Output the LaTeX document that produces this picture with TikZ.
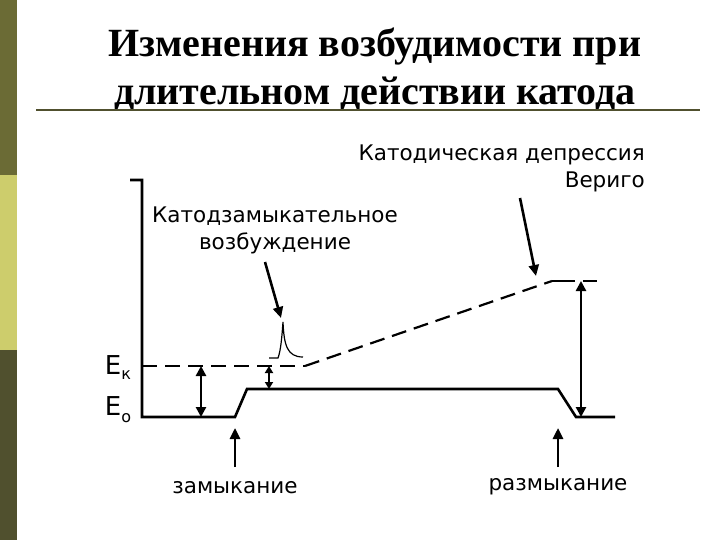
\documentclass[tikz,border=0pt]{standalone}
\usepackage{fontspec}
\setmainfont{DejaVu Sans}
\newfontfamily\titlefont{Liberation Serif}
\usetikzlibrary{arrows.meta}
\definecolor{oliveA}{HTML}{6B6B35}
\definecolor{oliveB}{HTML}{CDCD6C}
\definecolor{oliveC}{HTML}{50502E}
\tikzset{
  thick line/.style={line width=2.6pt},
  dash line/.style={line width=2.2pt, dash pattern=on 15pt off 8pt},
  arr/.style={line width=2.6pt,-{Triangle[length=11pt,width=10pt]}},
  darr/.style={line width=2.6pt,{Triangle[length=10pt,width=10pt]}-{Triangle[length=10pt,width=10pt]}},
  lbl/.style={font=\fontsize{21.5}{27}\selectfont, inner sep=0pt}
}
\begin{document}
\begin{tikzpicture}[x=1pt,y=-1pt]
\useasboundingbox (0,0) rectangle (720,540);
\fill[white] (0,0) rectangle (720,540);
\fill[oliveA] (0,0) rectangle (17,175);
\fill[oliveB] (0,175) rectangle (17,350);
\fill[oliveC] (0,350) rectangle (17,540);
\node[inner sep=0pt, font=\titlefont\bfseries\fontsize{40}{48}\selectfont, align=center] (title) at (375,70) {Изменения возбудимости при\\длительном действии катода};
\draw[oliveC, line width=1.5pt] (36,110) -- (700,110);
\coordinate (axtop) at (142,180);
\coordinate (tick) at (130,180);
\coordinate (o) at (142,417);
\coordinate (b1) at (235,417);
\coordinate (b2) at (247,389);
\coordinate (b3) at (558,389);
\coordinate (b4) at (576,417);
\coordinate (b5) at (615,417);
\coordinate (k0) at (142,366);
\coordinate (k1) at (305,366);
\coordinate (k2) at (552,281);
\coordinate (k3) at (597,281);
\draw[thick line] (tick) -- (axtop) -- (o) -- (b1) -- (b2) -- (b3) -- (b4) -- (b5);
\draw[dash line] (k0) -- (k1);
\draw[dash line] (k1) -- (k2);
\draw[line width=2pt] (k2) -- (575,281);
\draw[line width=2pt] (583,281) -- (k3);
\coordinate (s0) at (269,358);
\coordinate (sp) at (283,322);
\coordinate (s1) at (303,357);
\draw[line width=1.2pt] (s0) -- (278,358) .. controls (281,350) and (282,335) .. (sp) .. controls (284,345) and (287,357) .. (s1);
\coordinate (d1a) at (201,366); \coordinate (d1b) at (201,417);
\coordinate (d2a) at (269,366); \coordinate (d2b) at (269,389);
\coordinate (d3a) at (581,281); \coordinate (d3b) at (581,417);
\draw[darr] (d1a) -- (d1b);
\draw[line width=2pt,{Triangle[length=7pt,width=8pt]}-{Triangle[length=7pt,width=8pt]}] (d2a) -- (d2b);
\draw[darr] (d3a) -- (d3b);
\node[lbl, font=\fontsize{26}{30}\selectfont] (Ek) at (118,368) {E\raisebox{-5pt}{\fontsize{16}{18}\selectfont к}};
\node[lbl, font=\fontsize{26}{30}\selectfont] (Eo) at (118,410) {E\raisebox{-7pt}{\fontsize{16}{18}\selectfont о}};
\node[lbl, align=center] (kz) at (275,230) {Катодзамыкательное\\возбуждение};
\node[lbl, align=right, anchor=east] (kd) at (645,168) {Катодическая депрессия\\Вериго};
\node[lbl] (zam) at (235,488) {замыкание};
\node[lbl] (raz) at (558,487) {размыкание};
\coordinate (p1) at (281,318);
\coordinate (p2) at (536,276);
\draw[arr] (265,262) -- (p1);
\draw[arr] (520,198) -- (p2);
\coordinate (u1) at (235,428);
\coordinate (u2) at (558,428);
\draw[arr] (235,467) -- (u1);
\draw[arr] (558,467) -- (u2);
\end{tikzpicture}
\end{document}
